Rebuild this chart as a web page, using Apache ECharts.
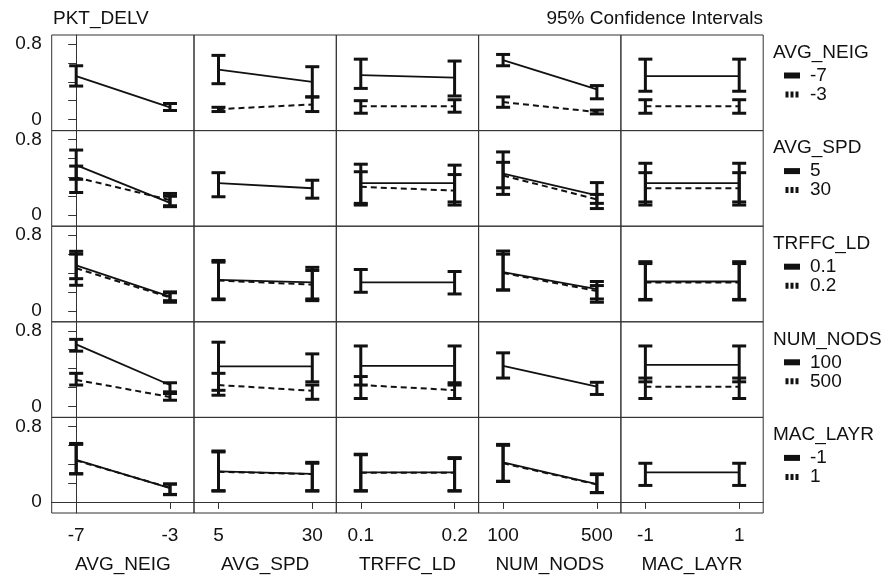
<!DOCTYPE html>
<html><head><meta charset="utf-8">
<script src="https://cdn.jsdelivr.net/npm/echarts@6/dist/echarts.min.js"></script>
<style>html,body{margin:0;padding:0;background:#fff}#c{width:888px;height:580px}</style>
</head><body><div id="c"></div>
<script>
const factors = ['AVG_NEIG','AVG_SPD','TRFFC_LD','NUM_NODS','MAC_LAYR'];
const levels = [['-7','-3'],['5','30'],['0.1','0.2'],['100','500'],['-1','1']];
const yTicks = [0,0.2,0.4,0.6,0.8];
const yLabelValues = [0,0.8];
const xPositions = [0,1];

// rows = trace factor (solid = first level, dashed = second level); columns = x factor
// diagonal panels = main effect (single line)
const solidMean = [
 [[0.46,0.13],[0.53,0.40],[0.47,0.445],[0.63,0.32],[0.46,0.46]],
 [[0.53,0.13],[0.34,0.285],[0.34,0.34],[0.44,0.21],[0.34,0.34]],
 [[0.48,0.15],[0.327,0.30],[0.30,0.30],[0.41,0.23],[0.31,0.31]],
 [[0.656,0.226],[0.423,0.423],[0.43,0.43],[0.43,0.208],[0.44,0.44]],
 [[0.447,0.147],[0.325,0.297],[0.314,0.314],[0.42,0.19],[0.314,0.314]]
];
const solidHigh = [
 [[0.57,0.17],[0.68,0.56],[0.64,0.62],[0.69,0.36],[0.64,0.64]],
 [[0.69,0.20],[0.45,0.37],[0.54,0.53],[0.67,0.345],[0.55,0.55]],
 [[0.63,0.20],[0.533,0.46],[0.437,0.416],[0.633,0.31],[0.52,0.52]],
 [[0.71,0.25],[0.68,0.556],[0.64,0.64],[0.567,0.255],[0.64,0.64]],
 [[0.62,0.19],[0.54,0.42],[0.506,0.47],[0.61,0.297],[0.41,0.41]]
];
const solidLow = [
 [[0.355,0.096],[0.38,0.24],[0.33,0.25],[0.57,0.22],[0.30,0.30]],
 [[0.38,0.09],[0.195,0.18],[0.107,0.107],[0.22,0.125],[0.107,0.107]],
 [[0.34,0.107],[0.117,0.125],[0.196,0.178],[0.22,0.09],[0.114,0.114]],
 [[0.585,0.154],[0.17,0.26],[0.226,0.226],[0.30,0.126],[0.26,0.26]],
 [[0.297,0.077],[0.115,0.115],[0.115,0.115],[0.217,0.098],[0.175,0.175]]
];
const dashedMean = [
 [null,[0.11,0.16],[0.14,0.14],[0.185,0.08],[0.14,0.14]],
 [[0.40,0.16],null,[0.30,0.26],[0.42,0.167],[0.285,0.285]],
 [[0.45,0.14],[0.32,0.277],null,[0.40,0.21],[0.30,0.30]],
 [[0.28,0.10],[0.226,0.165],[0.226,0.172],null,[0.208,0.208]],
 [[0.44,0.15],[0.32,0.295],[0.31,0.31],[0.41,0.185],null]
];
const dashedHigh = [
 [null,[0.13,0.24],[0.20,0.21],[0.24,0.10],[0.21,0.21]],
 [[0.52,0.23],null,[0.46,0.43],[0.56,0.22],[0.45,0.45]],
 [[0.60,0.19],[0.515,0.427],null,[0.60,0.267],[0.50,0.50]],
 [[0.35,0.136],[0.35,0.226],[0.316,0.25],null,[0.30,0.30]],
 [[0.61,0.19],[0.53,0.41],[0.50,0.46],[0.60,0.29],null]
];
const dashedLow = [
 [null,[0.085,0.085],[0.067,0.078],[0.13,0.06],[0.067,0.067]],
 [[0.24,0.10],null,[0.125,0.14],[0.29,0.07],[0.14,0.14]],
 [[0.27,0.09],[0.125,0.107],null,[0.22,0.125],[0.12,0.12]],
 [[0.226,0.065],[0.118,0.075],[0.083,0.083],null,[0.083,0.083]],
 [[0.30,0.08],[0.12,0.12],[0.12,0.12],[0.22,0.10],null]
];

const FONT = 'Liberation Sans, Arial, sans-serif';
const INK = '#111';
const TXT = '#111';
const gx0 = 51.7, gw = 142.3, gy0 = 35, gh = 95.6;

const grids = [], xAxes = [], yAxes = [], series = [], titles = [], legends = [];

function renderBar(params, api) {
  const x = api.value(0), lo = api.value(1), hi = api.value(2);
  const a = api.coord([x, lo]), b = api.coord([x, hi]);
  const w = 7;
  const st = {stroke: INK, lineWidth: 3};
  return {type: 'group', children: [
    {type: 'line', shape: {x1: a[0], y1: a[1], x2: b[0], y2: b[1]}, style: st},
    {type: 'line', shape: {x1: a[0]-w, y1: a[1], x2: a[0]+w, y2: a[1]}, style: st},
    {type: 'line', shape: {x1: b[0]-w, y1: b[1], x2: b[0]+w, y2: b[1]}, style: st}
  ]};
}

for (let r = 0; r < 5; r++) {
  for (let c = 0; c < 5; c++) {
    const i = r*5 + c;
    grids.push({left: gx0 + c*gw, top: gy0 + r*gh, width: gw, height: gh,
      show: true, borderColor: '#333', borderWidth: 1, backgroundColor: 'transparent'});
    const bottom = r === 4, left = c === 0;
    xAxes.push({type: 'value', gridIndex: i, min: -0.261, max: 1.256,
      show: true, splitLine: {show: false},
      axisLine: {show: bottom, lineStyle: {color: '#333'}},
      axisTick: {show: bottom, customValues: xPositions, length: 7, lineStyle: {color: '#333'}},
      axisLabel: {show: bottom, customValues: xPositions, margin: 13,
        formatter: (v) => levels[c][Math.round(v)],
        fontFamily: FONT, fontSize: 19, color: TXT},
      name: bottom ? factors[c] : '', nameLocation: 'middle', nameGap: 42,
      nameTextStyle: {fontFamily: FONT, fontSize: 19, color: TXT}
    });
    yAxes.push({type: 'value', gridIndex: i, min: -0.117, max: 0.896,
      show: true, splitLine: {show: false},
      axisLine: {show: left, lineStyle: {color: '#333'}},
      axisTick: {show: left, customValues: yTicks, length: 8, lineStyle: {color: '#333'}},
      axisLabel: {show: left, customValues: yLabelValues, margin: 10,
        formatter: (v) => v === 0 ? '0' : String(v),
        fontFamily: FONT, fontSize: 19, color: TXT}
    });
    const diag = r === c;
    const sName = diag ? ('main ' + factors[r]) : levels[r][0];
    series.push({type: 'line', name: sName, xAxisIndex: i, yAxisIndex: i,
      data: xPositions.map((x, k) => [x, solidMean[r][c][k]]),
      symbol: 'none', color: INK, lineStyle: {color: INK, width: 1.8, type: 'solid'}, z: 3});
    series.push({type: 'custom', name: sName, xAxisIndex: i, yAxisIndex: i,
      renderItem: renderBar, encode: {x: 0, y: [1, 2]}, color: INK,
      data: xPositions.map((x, k) => [x, solidLow[r][c][k], solidHigh[r][c][k]]), z: 4});
    if (dashedMean[r][c]) {
      series.push({type: 'line', name: levels[r][1], xAxisIndex: i, yAxisIndex: i,
        data: xPositions.map((x, k) => [x, dashedMean[r][c][k]]),
        symbol: 'none', color: INK, lineStyle: {color: INK, width: 2, type: [6, 4]}, z: 3});
      series.push({type: 'custom', name: levels[r][1], xAxisIndex: i, yAxisIndex: i,
        renderItem: renderBar, encode: {x: 0, y: [1, 2]}, color: INK,
        data: xPositions.map((x, k) => [x, dashedLow[r][c][k], dashedHigh[r][c][k]]), z: 4});
    }
  }
  titles.push({text: factors[r], left: 773, top: gy0 + r*gh + 8, padding: 0,
    textStyle: {fontFamily: FONT, fontSize: 19, fontWeight: 'normal', color: TXT}});
  legends.push({orient: 'vertical', left: 784, top: gy0 + r*gh + 31, padding: 0,
    itemWidth: 16, itemHeight: 6, itemGap: 0, selectedMode: false,
    textStyle: {fontFamily: FONT, fontSize: 19, color: TXT, lineHeight: 19, padding: [0, 0, 0, 5]},
    itemStyle: {color: INK, borderWidth: 0},
    lineStyle: {width: 0},
    data: [
      {name: levels[r][0], icon: 'rect'},
      {name: levels[r][1], icon: 'path://M0,0H3V6H0Z M5,0H8V6H5Z M10,0H13V6H10Z'}
    ]});
}
titles.push({text: 'PKT_DELV', left: 53, top: 9, padding: 0,
  textStyle: {fontFamily: FONT, fontSize: 19, fontWeight: 'normal', color: TXT}});
titles.push({text: '95% Confidence Intervals', right: 125, top: 9, padding: 0,
  textStyle: {fontFamily: FONT, fontSize: 19, fontWeight: 'normal', color: TXT}});

const chart = echarts.init(document.getElementById('c'), null, {renderer: 'canvas'});
chart.setOption({
  animation: false,
  backgroundColor: '#fff',
  title: titles,
  legend: legends,
  grid: grids,
  xAxis: xAxes,
  yAxis: yAxes,
  series: series
});
</script></body></html>
